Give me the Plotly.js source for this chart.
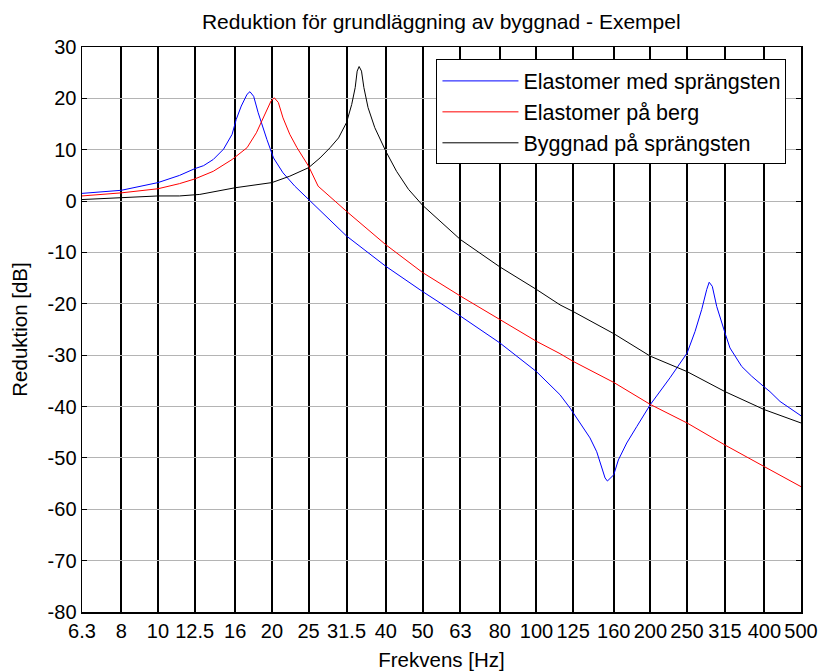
<!DOCTYPE html>
<html>
<head>
<meta charset="utf-8">
<script src="https://cdn.plot.ly/plotly-3.0.1.min.js"></script>
<style>html,body{margin:0;padding:0;background:#fff;}</style>
</head>
<body>
<div id="chart" style="width:821px;height:672px;"></div>
<script>
// Third-octave band tick labels
const xTickVals = [6.3, 8, 10, 12.5, 16, 20, 25, 31.5, 40, 50, 63, 80, 100, 125, 160, 200, 250, 315, 400, 500];
const xTickText = ["6.3", "8", "10", "12.5", "16", "20", "25", "31.5", "40", "50", "63", "80", "100", "125", "160", "200", "250", "315", "400", "500"];
const yTickVals = [-80, -70, -60, -50, -40, -30, -20, -10, 0, 10, 20, 30];
const yTickText = ["-80", "-70", "-60", "-50", "-40", "-30", "-20", "-10", "0", "10", "20", "30"];

// Elastomer med sprängsten (blue)
const freqBlue = [6.3, 8, 10, 11.4, 12.5, 13.2, 14.0, 14.9, 15.7, 16.1, 16.6, 17.2, 17.5, 17.9, 18.4, 19.0, 19.4, 20.2, 21.4, 23.0, 25, 31.5, 40, 50, 63, 80, 100, 115.4, 122.7, 130.3, 138.5, 144.3, 148.7, 151.8, 154, 160, 164.6, 173.2, 184.1, 200, 225.4, 239.5, 250, 262.4, 273.3, 281.8, 286, 291.5, 299.4, 315, 324.6, 348.6, 370.5, 400, 414, 440, 500];
const valBlue  = [1.5, 2.1, 3.6, 5.0, 6.3, 6.9, 8.1, 10.1, 13.0, 15.9, 18.5, 20.8, 21.3, 20.4, 17.2, 14.0, 12.0, 8.4, 5.5, 2.9, 0.3, -6.8, -12.7, -17.6, -22.4, -27.6, -33.2, -37.7, -40.3, -43.2, -46.1, -48.8, -51.7, -53.9, -54.5, -53.3, -50.4, -47.1, -43.9, -39.6, -34.4, -31.7, -29.6, -25.4, -21.1, -17.2, -15.8, -16.6, -20.5, -25.7, -28.6, -32.2, -34.1, -36.2, -37.1, -39.0, -41.8];

// Elastomer på berg (red)
const freqRed = [6.3, 8, 10, 11.4, 12.5, 14.0, 15.7, 17.2, 18.2, 19.2, 19.9, 20.3, 20.8, 21.4, 22.3, 23.3, 25, 26.5, 31.5, 40, 50, 63, 80, 100, 115.4, 125, 160, 200, 250, 315, 400, 500];
const valRed  = [1.0, 1.6, 2.4, 3.4, 4.3, 5.8, 8.1, 10.4, 13.3, 17.2, 19.5, 20.1, 19.2, 16.2, 13.0, 10.4, 6.8, 2.9, -2.0, -8.5, -13.9, -18.5, -23.1, -27.3, -29.7, -31.2, -35.3, -39.6, -43.2, -47.5, -51.7, -55.6];

// Byggnad på sprängsten (black)
const freqBlack = [6.3, 8, 10, 11.4, 12.9, 16, 20, 22.3, 25, 26.8, 28.5, 30.0, 31.5, 32.5, 33.2, 33.6, 34.0, 34.5, 35.0, 35.9, 37.4, 40, 42.7, 45.9, 50, 63, 80, 100, 115.4, 125, 160, 200, 250, 315, 400, 500];
const valBlack  = [0.3, 0.6, 1.0, 1.0, 1.3, 2.6, 3.6, 4.85, 6.5, 8.4, 10.4, 12.3, 15.3, 18.8, 22.1, 25.3, 26.2, 25.3, 22.1, 18.2, 14.3, 9.7, 5.8, 2.3, -0.8, -7.5, -12.8, -17.2, -20.2, -21.5, -25.8, -30.2, -33.2, -37.1, -40.6, -43.2];

const FONT = "Liberation Sans, Arial, sans-serif";

const traces = [
  {x: freqBlue, y: valBlue, type: "scatter", mode: "lines", name: "Elastomer med sprängsten",
   line: {color: "#0000ff", width: 1}},
  {x: freqRed, y: valRed, type: "scatter", mode: "lines", name: "Elastomer på berg",
   line: {color: "#ff0000", width: 1}},
  {x: freqBlack, y: valBlack, type: "scatter", mode: "lines", name: "Byggnad på sprängsten",
   line: {color: "#000000", width: 1}}
];

const layout = {
  width: 821, height: 672,
  margin: {l: 82, r: 20, t: 47, b: 60},
  paper_bgcolor: "#ffffff", plot_bgcolor: "#ffffff",
  font: {family: FONT, size: 20, color: "#000"},
  title: {text: "Reduktion för grundläggning av byggnad - Exempel", font: {family: FONT, size: 21, color: "#000"},
          x: 0.5375, xanchor: "center", y: 0.968, yanchor: "middle"},
  xaxis: {
    type: "log", range: [Math.log10(6.3), Math.log10(500)],
    tickvals: xTickVals, ticktext: xTickText,
    showgrid: true, gridcolor: "#000000", gridwidth: 2,
    showline: true, linecolor: "#000", linewidth: 1.5, mirror: true,
    ticks: "", zeroline: false,
    tickfont: {family: FONT, size: 20, color: "#000"},
    title: {text: "Frekvens [Hz]", font: {family: FONT, size: 20.5, color: "#000"}, standoff: 12}
  },
  yaxis: {
    range: [-80, 30], tickvals: yTickVals, ticktext: yTickText,
    showgrid: true, gridcolor: "#b4b4b4", gridwidth: 1,
    showline: true, linecolor: "#000", linewidth: 1.5, mirror: "ticks",
    ticks: "inside", ticklen: 5, tickcolor: "#000", zeroline: false,
    tickfont: {family: FONT, size: 20, color: "#000"},
    title: {text: "Reduktion [dB]", font: {family: FONT, size: 20.5, color: "#000"}, standoff: 14}
  },
  legend: {
    x: 0.493, y: 0.978, xanchor: "left", yanchor: "top",
    bgcolor: "#ffffff", bordercolor: "#000", borderwidth: 1,
    font: {family: FONT, size: 21.5, color: "#000"},
    itemwidth: 76, tracegroupgap: 0
  },
  showlegend: true
};

Plotly.newPlot("chart", traces, layout, {displayModeBar: false, staticPlot: true});
</script>
</body>
</html>
